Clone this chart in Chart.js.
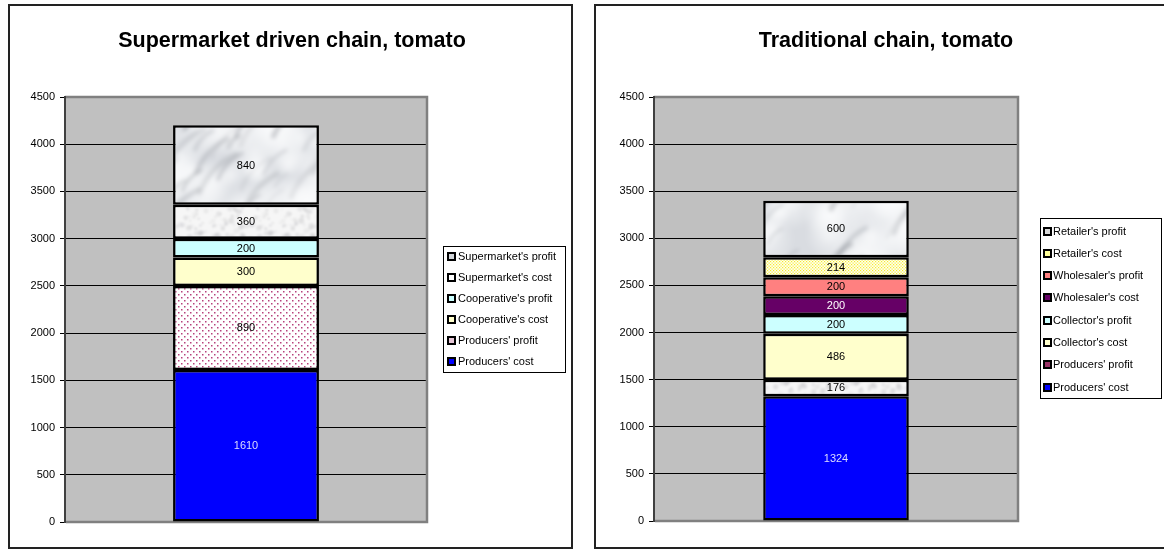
<!DOCTYPE html>
<html><head><meta charset="utf-8">
<script src="https://cdn.jsdelivr.net/npm/chart.js@4.4.1/dist/chart.umd.min.js"></script>
<style>
html,body{margin:0;padding:0;background:#fff;width:1164px;height:552px;overflow:hidden;}
.panel{position:absolute;top:4px;height:545px;box-sizing:border-box;border:2px solid #222;background:#fff;}
#p1{left:8px;width:565px;}
#p2{left:594px;width:600px;}
canvas{display:block;}
</style></head><body>
<div class="panel" id="p1"><canvas id="c1" width="561" height="541"></canvas></div>
<div class="panel" id="p2"><canvas id="c2" width="580" height="541"></canvas></div>
<script>
// ---------------- data ----------------
const leftTitle = 'Supermarket driven chain, tomato';
const leftSeries = ["Producers' cost", "Producers' profit", "Cooperative's cost", "Cooperative's profit", "Supermarket's cost", "Supermarket's profit"];
const leftValues = [1610, 890, 300, 200, 360, 840];

const rightTitle = 'Traditional chain, tomato';
const rightSeries = ["Producers' cost", "Producers' profit", "Collector's cost", "Collector's profit", "Wholesaler's cost", "Wholesaler's profit", "Retailer's cost", "Retailer's profit"];
const rightValues = [1324, 176, 486, 200, 200, 200, 214, 600];

const categories = [''];
const yTickLabels = ['0', '500', '1000', '1500', '2000', '2500', '3000', '3500', '4000', '4500'];
const yMin = 0, yMax = 4500, yStep = 500;

// ---------------- textures ----------------
const FONT = '"Liberation Sans", Arial, sans-serif';
function hash(n) { const s = Math.sin(n * 127.1 + 311.7) * 43758.5453; return s - Math.floor(s); }
function makeCanvas(w, h) { const c = document.createElement('canvas'); c.width = w; c.height = h; return c; }
function wrapDraw(w, h, fn) { for (let dx = -1; dx <= 1; dx++) for (let dy = -1; dy <= 1; dy++) fn(dx * w, dy * h); }
function blurred(src, px) {
  const w = src.width, h = src.height;
  const big = makeCanvas(w * 3, h * 3); const bg = big.getContext('2d');
  bg.filter = 'blur(' + px + 'px)';
  const tmp = makeCanvas(w * 3, h * 3); const tg = tmp.getContext('2d');
  for (let i = 0; i < 3; i++) for (let j = 0; j < 3; j++) tg.drawImage(src, i * w, j * h);
  bg.drawImage(tmp, 0, 0);
  const c = makeCanvas(w, h); c.getContext('2d').drawImage(big, w, h, w, h, 0, 0, w, h);
  return c;
}
function marblePattern(ctx) {
  const w = 150, h = 150; const c = makeCanvas(w, h); const g = c.getContext('2d');
  g.fillStyle = '#d9dce1'; g.fillRect(0, 0, w, h);
  for (let i = 0; i < 45; i++) {
    const x0 = hash(i) * w, y0 = hash(i + 100) * h, r = 8 + hash(i + 200) * 28;
    wrapDraw(w, h, (ox, oy) => {
      const x = x0 + ox, y = y0 + oy;
      const grd = g.createRadialGradient(x, y, 0, x, y, r);
      grd.addColorStop(0, 'rgba(250,251,252,0.7)'); grd.addColorStop(1, 'rgba(250,251,252,0)');
      g.fillStyle = grd; g.fillRect(x - r, y - r, 2 * r, 2 * r);
    });
  }
  g.lineCap = 'round';
  for (let i = 0; i < 30; i++) {
    const x0 = hash(i + 300) * w, y0 = hash(i + 400) * h, len = 15 + hash(i + 500) * 45;
    const a = 0.12 + hash(i + 600) * 0.3;
    const lw = 1 + hash(i + 700) * 4;
    wrapDraw(w, h, (ox, oy) => {
      const x = x0 + ox, y = y0 + oy;
      g.strokeStyle = 'rgba(105,110,118,' + a.toFixed(2) + ')';
      g.lineWidth = lw;
      g.beginPath(); g.moveTo(x, y);
      g.quadraticCurveTo(x + len * 0.2, y - len * 0.5, x + len * 0.7, y - len * 0.75);
      g.stroke();
    });
  }
  return ctx.createPattern(blurred(c, 2), 'repeat');
}
function granitePattern(ctx) {
  const w = 70, h = 50; const c = makeCanvas(w, h); const g = c.getContext('2d');
  g.fillStyle = '#f6f6f6'; g.fillRect(0, 0, w, h);
  for (let i = 0; i < 110; i++) {
    const x0 = hash(i + 900) * w, y0 = hash(i + 1000) * h, r = 0.8 + hash(i + 1100) * 2.2;
    const a = 0.08 + hash(i + 1200) * 0.22;
    wrapDraw(w, h, (ox, oy) => {
      g.fillStyle = 'rgba(175,175,180,' + a.toFixed(2) + ')';
      g.beginPath(); g.arc(x0 + ox, y0 + oy, r, 0, Math.PI * 2); g.fill();
    });
  }
  return ctx.createPattern(blurred(c, 0.8), 'repeat');
}
function dotPattern(ctx, base, dot, size, ds) {
  const c = makeCanvas(size, size); const g = c.getContext('2d');
  g.fillStyle = base; g.fillRect(0, 0, size, size);
  g.fillStyle = dot;
  const h = size / 2;
  g.fillRect(0, 0, ds, ds); g.fillRect(h, h, ds, ds);
  return ctx.createPattern(c, 'repeat');
}

// ---------------- chart builder ----------------
function buildChart(canvasId, title, names, values, style) {
  const canvas = document.getElementById(canvasId);
  const ctx = canvas.getContext('2d');
  const fills = style.fills(ctx);
  const datasets = names.map((n, i) => ({
    label: n,
    data: [values[i]],
    backgroundColor: fills[i],
    borderColor: '#000',
    borderWidth: 2.5,
    borderSkipped: false,
    barPercentage: 1,
    categoryPercentage: style.catPct
  }));

  const decor = {
    id: 'decor',
    beforeDraw(chart) {
      const a = chart.chartArea, c = chart.ctx;
      c.save(); c.fillStyle = '#c0c0c0'; c.fillRect(a.left, a.top, a.right - a.left, a.bottom - a.top); c.restore();
    },
    beforeDatasetsDraw(chart) {
      const a = chart.chartArea, c = chart.ctx;
      c.save(); c.strokeStyle = '#808080'; c.lineWidth = 2.5;
      c.beginPath(); c.moveTo(a.left, a.top); c.lineTo(a.right, a.top); c.lineTo(a.right, a.bottom); c.lineTo(a.left + 1, a.bottom); c.stroke();
      c.strokeStyle = '#404040'; c.lineWidth = 2;
      c.beginPath(); c.moveTo(a.left, a.top - 1); c.lineTo(a.left, a.bottom + 1); c.stroke();
      c.restore();
    },
    afterDatasetsDraw(chart) {
      const c = chart.ctx;
      c.save(); c.font = '11px ' + FONT; c.textAlign = 'center'; c.textBaseline = 'middle';
      chart.data.datasets.forEach((ds, i) => {
        const el = chart.getDatasetMeta(i).data[0];
        c.fillStyle = style.labelColors[i];
        c.fillText(String(ds.data[0]), el.x, (el.y + el.base) / 2 + 0.5);
      });
      c.restore();
    },
    afterDraw(chart) {
      const c = chart.ctx;
      c.save();
      // title
      c.fillStyle = '#000'; c.font = 'bold 21.5px ' + FONT; c.textAlign = 'center'; c.textBaseline = 'alphabetic';
      c.fillText(title, style.titleX, style.titleY);
      // legend box
      const L = style.legend;
      c.fillStyle = '#fff'; c.fillRect(L.x, L.y, L.w, L.h);
      c.strokeStyle = '#000'; c.lineWidth = 1; c.strokeRect(L.x + 0.5, L.y + 0.5, L.w - 1, L.h - 1);
      c.font = '11px ' + FONT; c.textAlign = 'left'; c.textBaseline = 'middle';
      const n = names.length;
      for (let k = 0; k < n; k++) {
        const i = n - 1 - k; // reversed order: top item is last series
        const cy = L.firstY + k * L.step;
        const top = Math.round(cy - 4.5);
        c.fillStyle = '#000'; c.fillRect(L.iconX, top, 9, 9);
        c.fillStyle = style.iconColors[i]; c.fillRect(L.iconX + 2, top + 2, 5, 5);
        c.fillStyle = '#000'; c.fillText(names[i], L.textX, cy + 0.5);
      }
      c.restore();
    }
  };

  return new Chart(canvas, {
    type: 'bar',
    data: { labels: categories, datasets },
    options: {
      responsive: false,
      animation: false,
      events: [],
      layout: { padding: style.padding },
      plugins: { legend: { display: false }, title: { display: false }, tooltip: { enabled: false } },
      scales: {
        x: { stacked: true, display: false },
        y: {
          stacked: true, min: yMin, max: yMax,
          afterFit(scale) { scale.width = style.axisW; },
          ticks: {
            stepSize: yStep, color: '#000', padding: 5,
            font: { family: FONT, size: 11 },
            callback: (v, i) => yTickLabels[i]
          },
          grid: { color: '#000', lineWidth: 1, tickLength: 5, drawTicks: true },
          border: { display: false }
        }
      }
    },
    plugins: [decor]
  });
}

buildChart('c1', leftTitle, leftSeries, leftValues, {
  fills: (ctx) => [
    '#0000ff',
    dotPattern(ctx, '#ffffff', '#b8427c', 6, 1.5),
    '#ffffcc',
    '#ccffff',
    granitePattern(ctx),
    marblePattern(ctx)
  ],
  iconColors: ['#0000ff', '#e6c6d6', '#ffffcc', '#ccffff', '#ffffff', '#d2d6da'],
  labelColors: ['#dcdcff', '#000', '#000', '#000', '#000', '#000'],
  catPct: 0.403,
  axisW: 55,
  padding: { left: 0, top: 91, right: 144, bottom: 25 },
  titleX: 282, titleY: 41,
  legend: { x: 433, y: 240, w: 123, h: 127, firstY: 250, step: 21, iconX: 437, textX: 448 }
});

buildChart('c2', rightTitle, rightSeries, rightValues, {
  fills: (ctx) => [
    '#0000ff',
    granitePattern(ctx),
    '#ffffcc',
    '#ccffff',
    '#660066',
    '#ff8080',
    dotPattern(ctx, '#fffff0', '#f6ec30', 3, 1.2),
    marblePattern(ctx)
  ],
  iconColors: ['#0000ff', '#993366', '#ffffcc', '#ccffff', '#660066', '#ff8080', '#ffff99', '#d8d8d8'],
  labelColors: ['#dcdcff', '#000', '#000', '#000', '#ffffff', '#000', '#000', '#000'],
  catPct: 0.4,
  axisW: 58,
  padding: { left: 0, top: 91, right: 158, bottom: 26 },
  titleX: 290, titleY: 41,
  legend: { x: 444, y: 212, w: 122, h: 181, firstY: 225, step: 22.3, iconX: 447, textX: 457 }
});
</script>
</body></html>
